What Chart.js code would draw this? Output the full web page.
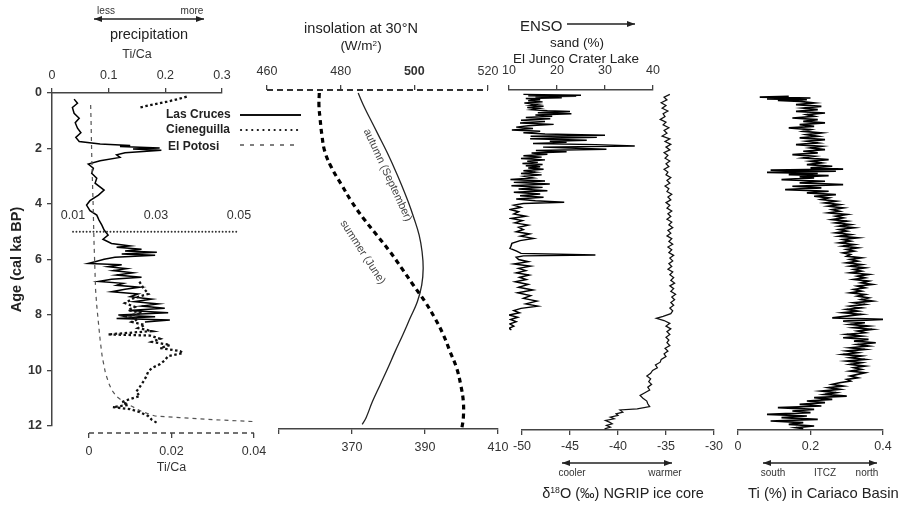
<!DOCTYPE html>
<html><head><meta charset="utf-8">
<script src="https://cdn.jsdelivr.net/npm/chart.js@4.4.0/dist/chart.umd.min.js"></script>
<style>
html,body{margin:0;padding:0;background:#fff;overflow:hidden;}
#wrap{position:relative;width:899px;height:505px;overflow:hidden;font-family:'Liberation Sans',Arial,Helvetica,sans-serif;color:#222;background:#fff;}
#wrap canvas{position:absolute;left:0;top:0;}
#ov{position:absolute;left:0;top:0;pointer-events:none;}
.t{position:absolute;transform:translate(-50%,-50%);white-space:nowrap;line-height:1;}
.l{position:absolute;transform:translateY(-50%);white-space:nowrap;line-height:1;}
.sup{font-size:0.6em;position:relative;top:-0.55em;}
</style></head>
<body>
<div id="wrap">
<svg id="ov" width="899" height="505">
<defs>
<marker id="ah" viewBox="0 0 8 6" refX="8" refY="3" markerWidth="8" markerHeight="6" markerUnits="userSpaceOnUse" orient="auto-start-reverse"><path d="M0,0 L8,3 L0,6 z" fill="#222"/></marker>
</defs>
<line x1="94" y1="19" x2="204" y2="19" stroke="#222" stroke-width="1.3" marker-start="url(#ah)" marker-end="url(#ah)"/>
<line x1="567" y1="24" x2="635" y2="24" stroke="#222" stroke-width="1.3" marker-end="url(#ah)"/>
<line x1="562" y1="463" x2="672" y2="463" stroke="#222" stroke-width="1.3" marker-start="url(#ah)" marker-end="url(#ah)"/>
<line x1="763" y1="463" x2="877" y2="463" stroke="#222" stroke-width="1.3" marker-start="url(#ah)" marker-end="url(#ah)"/>
<line x1="240" y1="115" x2="301" y2="115" stroke="#111" stroke-width="2.2"/>
<line x1="241" y1="130" x2="300" y2="130" stroke="#111" stroke-width="2.2" stroke-dasharray="0.1 5.5" stroke-linecap="round"/>
<line x1="240" y1="145" x2="296" y2="145" stroke="#555" stroke-width="1.3" stroke-dasharray="4 6"/>
</svg>
<div class="t" style="left:106px;top:11px;font-size:10px;color:#333">less</div>
<div class="t" style="left:192px;top:11px;font-size:10px;color:#333">more</div>
<div class="t" style="left:149px;top:34px;font-size:14.5px;color:#222">precipitation</div>
<div class="l" style="left:166px;top:114px;font-size:12px;font-weight:bold;color:#222">Las Cruces</div>
<div class="l" style="left:166px;top:129px;font-size:12px;font-weight:bold;color:#222">Cieneguilla</div>
<div class="l" style="left:168px;top:146px;font-size:12px;font-weight:bold;color:#222">El Potosi</div>
<div class="t" style="left:361px;top:28px;font-size:14.5px;color:#222">insolation at 30°N</div>
<div class="t" style="left:361px;top:46px;font-size:13.5px;color:#222">(W/m<span class="sup">2</span>)</div>
<div class="t" style="left:388px;top:175px;font-size:11px;color:#444;transform:translate(-50%,-50%) rotate(65deg)">autumn (September)</div>
<div class="t" style="left:363px;top:252px;font-size:11px;color:#444;transform:translate(-50%,-50%) rotate(57deg)">summer (June)</div>
<div class="l" style="left:520px;top:25px;font-size:15px;color:#222">ENSO</div>
<div class="t" style="left:577px;top:43px;font-size:13.5px;color:#222">sand (%)</div>
<div class="t" style="left:576px;top:59px;font-size:13.5px;color:#222">El Junco Crater Lake</div>
<div class="t" style="left:572px;top:473px;font-size:10px;color:#333">cooler</div>
<div class="t" style="left:665px;top:473px;font-size:10px;color:#333">warmer</div>
<div class="t" style="left:623px;top:493px;font-size:14.5px;color:#222">δ<span class="sup">18</span>O (‰) NGRIP ice core</div>
<div class="t" style="left:773px;top:473px;font-size:10px;color:#333">south</div>
<div class="t" style="left:825px;top:473px;font-size:10px;color:#333">ITCZ</div>
<div class="t" style="left:867px;top:473px;font-size:10px;color:#333">north</div>
<div class="l" style="left:748px;top:493px;font-size:14.8px;color:#222">Ti (%) in Cariaco Basin</div>
</div>
<script>
// ================= DATA =================
// Panel 1: precipitation proxies (Ti/Ca) vs age (cal ka BP)
const lasCrucesAge = [0.22,0.37,0.52,0.73,0.91,1.07,1.27,1.43,1.6,1.75,1.84,1.89,1.93,1.98,2.02,2.06,2.15,2.23,2.32,2.44,2.56,2.71,2.89,3.07,3.25,3.5,3.68,3.88,4.04,4.24,4.4,4.58,4.76,4.94,5.12,5.27,5.42,5.51,5.56,5.63,5.69,5.74,5.8,5.85,5.92,5.99,6.08,6.14,6.19,6.26,6.33,6.4,6.48,6.56,6.64,6.71,6.79,6.86,6.93,7.0,7.07,7.16,7.24,7.34,7.43,7.52,7.6,7.68,7.76,7.84,7.92,8.0,8.06,8.13,8.18,8.25];
const lasCrucesTiCa = [0.039,0.045,0.036,0.039,0.048,0.041,0.045,0.051,0.042,0.048,0.085,0.138,0.12,0.19,0.143,0.193,0.129,0.114,0.12,0.085,0.064,0.073,0.07,0.079,0.076,0.092,0.082,0.067,0.061,0.067,0.079,0.083,0.088,0.092,0.099,0.09,0.105,0.138,0.114,0.158,0.129,0.185,0.123,0.182,0.111,0.092,0.076,0.064,0.123,0.099,0.132,0.108,0.143,0.114,0.158,0.105,0.082,0.126,0.114,0.155,0.129,0.105,0.152,0.138,0.176,0.145,0.188,0.158,0.199,0.135,0.205,0.117,0.182,0.114,0.208,0.164];

const cieneguillaLateAge = [0.13,0.22,0.31,0.4,0.52];
const cieneguillaLateTiCa = [0.0374,0.0353,0.0327,0.0298,0.0261];
const cieneguillaAge = [6.8,7.04,7.24,7.4,7.57,7.71,7.82,7.93,8.04,8.14,8.25,8.36,8.47,8.58,8.7,8.74,8.86,8.97,9.08,9.19,9.3,9.37,9.48,9.62,9.77,9.91,10.05,10.23,10.41,10.59,10.77,10.92,11.03,11.14,11.24,11.32,11.39,11.5,11.64,11.78,11.91];
const cieneguillaTiCa = [0.026,0.027,0.0282,0.0245,0.0225,0.0249,0.0233,0.0266,0.0225,0.0257,0.0242,0.0273,0.0257,0.029,0.0184,0.0286,0.031,0.029,0.0334,0.031,0.0358,0.0365,0.0329,0.0322,0.031,0.029,0.0281,0.0276,0.0269,0.0261,0.0252,0.0261,0.0237,0.0218,0.0233,0.0196,0.0237,0.0261,0.0281,0.029,0.0305];

const elPotosiAge = [0.43,1.0,2.17,3.0,4.0,5.3,6.2,7.1,7.7,8.3,8.9,9.5,10.1,10.46,10.7,10.94,11.12,11.3,11.48,11.64,11.7,11.77,11.84];
const elPotosiTiCa = [0.0004,0.0005,0.00065,0.0008,0.001,0.0012,0.0014,0.0016,0.0019,0.0023,0.0027,0.0032,0.004,0.0048,0.0055,0.0067,0.0083,0.0105,0.0128,0.016,0.022,0.03,0.0398];

// Panel 2: insolation at 30°N (W/m2)
const juneAge = [0,0.43,0.91,1.51,2.11,2.71,3.32,3.92,4.52,5.12,5.72,6.32,6.92,7.52,8.12,8.72,9.32,9.92,10.52,11.12,11.72,12.08];
const juneInsolation = [474.2,474.1,474.4,474.9,475.7,477.6,480.3,483.0,486.2,489.8,493.4,496.6,499.7,502.9,505.6,507.9,509.7,511.5,512.6,513.3,513.3,512.9];
const septAge = [0,0.43,0.91,1.51,2.11,2.71,3.32,3.92,4.52,5.12,5.72,6.32,6.92,7.52,8.12,8.72,9.32,9.92,10.52,11.12,11.72,11.94];
const septInsolation = [371.7,373.1,374.9,377.2,379.5,381.6,383.6,385.4,387.0,388.4,389.2,389.5,389.1,387.9,385.9,383.9,381.8,379.8,377.7,375.6,373.8,372.8];

// Panel 3: El Junco sand (%) and NGRIP d18O (permil)
const sandAge = [0.05,0.08,0.10,0.12,0.14,0.17,0.20,0.24,0.28,0.32,0.36,0.40,0.44,0.48,0.52,0.56,0.60,0.64,0.67,0.71,0.75,0.79,0.84,0.88,0.93,0.98,1.03,1.08,1.13,1.18,1.23,1.28,1.33,1.38,1.43,1.48,1.52,1.56,1.60,1.65,1.70,1.74,1.78,1.82,1.86,1.91,1.95,1.99,2.03,2.07,2.12,2.16,2.21,2.26,2.31,2.36,2.41,2.46,2.50,2.54,2.58,2.62,2.66,2.70,2.75,2.80,2.85,2.90,2.95,3.00,3.06,3.12,3.17,3.22,3.28,3.34,3.40,3.46,3.52,3.58,3.64,3.70,3.76,3.82,3.88,3.94,3.98,4.04,4.12,4.20,4.28,4.36,4.44,4.52,4.60,4.68,4.76,4.84,4.92,5.00,5.08,5.16,5.24,5.32,5.42,5.52,5.60,5.70,5.78,5.84,5.87,5.92,6.00,6.08,6.16,6.24,6.32,6.40,6.48,6.56,6.64,6.72,6.80,6.90,7.00,7.10,7.20,7.30,7.40,7.50,7.60,7.68,7.76,7.84,7.92,8.00,8.08,8.16,8.24,8.32,8.40,8.48,8.54];
const sandPct = [13.0,25.0,14.0,24.0,15.5,21.0,13.5,16.5,14.0,17.0,13.2,16.0,14.5,17.2,13.8,16.3,14.8,18.0,22.7,16.0,23.0,15.5,19.0,13.5,18.6,12.5,17.5,12.3,19.3,14.0,11.5,15.0,10.6,16.5,13.0,17.5,30.0,14.5,28.3,14.4,26.2,18.5,22.0,15.0,28.0,36.2,17.1,24.0,30.3,15.6,22.0,14.7,18.0,13.0,16.8,12.5,17.5,13.8,16.0,12.8,17.0,13.5,16.5,14.0,17.2,13.0,15.5,12.5,16.8,13.2,15.0,10.3,17.5,11.0,18.5,10.5,17.0,12.0,18.0,11.0,16.5,12.3,17.2,11.5,15.5,21.5,13.0,11.0,12.5,10.3,12.0,11.0,13.5,10.5,12.8,11.2,14.0,12.0,13.0,11.5,14.3,12.4,15.1,12.3,10.6,10.4,10.2,11.6,12.5,28.0,13.0,11.5,12.0,14.0,11.0,14.5,12.0,13.5,11.5,14.2,12.2,13.6,11.3,14.0,12.0,15.0,11.8,14.5,13.0,15.8,13.5,16.0,12.5,11.0,12.2,10.0,11.8,10.3,11.5,10.2,11.0,10.0,10.5];

const ngripAge = [0.05,0.15,0.25,0.35,0.45,0.55,0.65,0.75,0.85,0.95,1.05,1.15,1.25,1.35,1.45,1.55,1.65,1.75,1.85,1.95,2.05,2.15,2.25,2.35,2.45,2.55,2.65,2.75,2.85,2.95,3.05,3.15,3.25,3.35,3.45,3.55,3.65,3.75,3.85,3.95,4.05,4.15,4.25,4.35,4.45,4.55,4.65,4.75,4.85,4.95,5.05,5.15,5.25,5.35,5.45,5.55,5.65,5.75,5.85,5.95,6.05,6.15,6.25,6.35,6.45,6.55,6.65,6.75,6.85,6.95,7.05,7.15,7.25,7.35,7.45,7.55,7.65,7.75,7.85,7.95,8.05,8.12,8.2,8.3,8.4,8.5,8.6,8.7,8.8,8.9,9.0,9.1,9.2,9.3,9.4,9.5,9.6,9.7,9.8,9.9,10.0,10.1,10.2,10.3,10.4,10.5,10.6,10.7,10.8,10.9,11.0,11.1,11.2,11.3,11.38,11.42,11.5,11.56,11.62,11.68,11.74,11.8,11.86,11.92,11.98,12.04,12.1];
const ngripD18O = [-34.6,-35.2,-34.9,-35.5,-35.0,-35.4,-34.8,-35.3,-35.1,-35.6,-35.0,-35.3,-34.7,-35.2,-34.9,-35.4,-34.6,-35.1,-34.5,-35.0,-34.6,-35.2,-34.8,-35.1,-34.6,-35.0,-34.7,-35.2,-34.8,-35.0,-34.5,-34.9,-34.6,-35.1,-34.7,-34.9,-34.4,-34.8,-34.5,-35.0,-34.6,-34.9,-34.4,-34.8,-34.5,-34.9,-34.4,-34.7,-34.3,-34.8,-34.5,-34.9,-34.4,-34.7,-34.3,-34.8,-34.4,-34.7,-34.2,-34.6,-34.3,-34.7,-34.4,-34.8,-34.3,-34.6,-34.2,-34.5,-34.1,-34.6,-34.2,-34.5,-34.0,-34.4,-34.1,-34.5,-34.2,-34.6,-34.3,-34.5,-35.3,-36.0,-35.2,-34.6,-35.0,-34.5,-34.9,-34.6,-35.0,-34.7,-34.9,-34.6,-35.1,-34.8,-35.2,-35.0,-35.5,-35.6,-36.1,-35.9,-36.4,-36.6,-37.0,-36.6,-36.8,-36.5,-36.9,-36.7,-37.2,-37.7,-37.4,-37.0,-36.9,-36.7,-38.0,-39.8,-39.5,-40.2,-40.0,-40.8,-40.4,-41.3,-40.9,-40.6,-41.2,-40.8,-41.4];

// Panel 4: Cariaco Basin Ti (%)
const cariacoAge = [0.12,0.15,0.18,0.21,0.24,0.27,0.30,
0.36,0.42,0.48,0.54,0.60,0.66,0.72,0.78,0.84,0.90,
0.96,1.02,1.08,1.14,1.20,1.26,1.32,1.38,1.44,1.50,
1.56,1.62,1.68,1.74,1.80,1.86,1.92,1.98,2.04,2.10,
2.16,2.22,2.28,2.34,2.40,2.46,2.52,2.58,2.64,2.70,
2.74,2.78,2.82,2.86,2.90,2.94,2.98,3.02,3.06,
3.12,3.18,3.24,3.30,3.36,3.42,3.48,3.54,3.60,3.66,
3.72,3.78,3.84,3.90,3.96,4.02,4.08,4.14,4.20,4.26,
4.32,4.38,4.44,4.50,4.56,4.62,4.68,4.74,4.80,4.86,
4.92,4.98,5.04,5.10,5.16,5.22,5.28,5.34,5.40,5.46,
5.52,5.58,5.64,5.70,5.76,5.82,5.88,5.94,6.00,6.06,
6.12,6.18,6.24,6.30,6.36,6.42,6.48,6.54,6.60,6.66,
6.72,6.78,6.84,6.90,6.96,7.02,7.08,7.14,7.20,7.26,
7.32,7.38,7.44,7.50,7.56,7.62,7.68,7.74,7.80,7.86,
7.92,7.98,8.04,8.10,8.16,8.22,8.28,8.34,8.40,8.46,
8.52,8.58,8.64,8.70,8.76,8.82,8.88,8.94,9.00,9.06,
9.12,9.18,9.24,9.30,9.36,9.42,9.48,9.54,9.60,9.66,
9.72,9.78,9.84,9.90,9.96,10.02,10.08,10.14,10.20,10.26,
10.32,10.38,10.44,10.50,10.56,10.62,10.68,10.74,10.80,10.86,
10.92,10.98,11.04,11.10,11.16,11.22,11.28,11.34,11.40,11.46,
11.52,11.58,11.64,11.70,11.76,11.82,11.88,11.94,12.00,12.06,
12.10];
const cariacoTi = [0.14,0.06,0.20,0.08,0.19,0.11,0.17,
0.21,0.16,0.23,0.18,0.22,0.16,0.24,0.19,0.21,0.15,
0.22,0.18,0.24,0.17,0.21,0.14,0.20,0.18,0.23,0.19,
0.22,0.17,0.24,0.19,0.22,0.16,0.23,0.20,0.24,0.18,
0.22,0.15,0.21,0.18,0.25,0.20,0.23,0.19,0.26,0.20,
0.29,0.09,0.27,0.08,0.22,0.14,0.25,0.17,0.21,
0.12,0.24,0.17,0.29,0.15,0.23,0.13,0.25,0.19,0.27,
0.21,0.25,0.23,0.27,0.24,0.28,0.25,0.29,0.26,0.28,
0.25,0.30,0.27,0.29,0.26,0.30,0.27,0.31,0.28,0.32,
0.28,0.30,0.27,0.31,0.28,0.33,0.29,0.31,0.28,0.32,
0.29,0.33,0.30,0.32,0.29,0.31,0.30,0.34,0.31,0.33,
0.30,0.34,0.31,0.35,0.32,0.34,0.31,0.36,0.33,0.35,
0.32,0.36,0.34,0.37,0.33,0.35,0.32,0.34,0.31,0.35,
0.33,0.36,0.34,0.37,0.32,0.35,0.31,0.34,0.30,0.33,
0.29,0.34,0.30,0.26,0.40,0.29,0.35,0.31,0.36,0.32,
0.37,0.33,0.35,0.30,0.34,0.29,0.36,0.32,0.38,0.33,
0.36,0.31,0.35,0.30,0.33,0.29,0.34,0.31,0.35,0.30,
0.34,0.31,0.35,0.32,0.34,0.31,0.35,0.33,0.31,0.33,
0.30,0.31,0.28,0.26,0.29,0.25,0.28,0.23,0.27,0.24,
0.30,0.21,0.26,0.19,0.24,0.17,0.23,0.11,0.21,0.15,
0.20,0.08,0.19,0.12,0.22,0.09,0.18,0.14,0.21,0.16,
0.18];

// Tick values and labels
const ageTicks = [0,2,4,6,8,10,12];
const ageTickLabels = ['0','2','4','6','8','10','12'];
const tiCaTopTicks = [0,0.1,0.2,0.3];
const tiCaTopLabels = ['0','0.1','0.2','0.3'];
const tiCaBottomTicks = [0,0.02,0.04];
const tiCaBottomLabels = ['0','0.02','0.04'];
const tiCaInnerTicks = [0.01,0.03,0.05];
const tiCaInnerLabels = ['0.01','0.03','0.05'];
const juneTicks = [460,480,500,520];
const juneTickLabels = ['460','480','500','520'];
const septTicks = [350,370,390,410];
const septTickLabels = ['','370','390','410'];
const sandTicks = [10,20,30,40];
const sandTickLabels = ['10','20','30','40'];
const d18OTicks = [-50,-45,-40,-35,-30];
const d18OTickLabels = ['-50','-45','-40','-35','-30'];
const tiTicks = [0,0.2,0.4];
const tiTickLabels = ['0','0.2','0.4'];

// ================= RENDERING =================
Chart.defaults.font.family = "'Liberation Sans', Arial, Helvetica, sans-serif";
Chart.defaults.color = '#333';
const AX = '#444';
const wrap = document.getElementById('wrap');
const overlay = document.getElementById('ov');

function pts(ages, vals) { return ages.map((a, i) => ({x: vals[i], y: a})); }
function series(label, ages, vals, style) {
  return Object.assign({label, data: pts(ages, vals), showLine: true, pointRadius: 0, pointHoverRadius: 0,
    borderColor: '#111', borderWidth: 1.3, tension: 0, fill: false}, style);
}
function xAxis(o) {
  return {
    type: 'linear', position: o.position, min: o.min, max: o.max, bounds: 'data',
    afterBuildTicks: s => { s.ticks = o.ticks.map(v => ({value: v})); },
    afterFit: s => { s.height = o.height; },
    ticks: {autoSkip: false, maxRotation: 0, minRotation: 0, padding: o.pad, color: '#333',
      font: o.font || {size: 12.5}, callback: (v, i) => o.labels[i]},
    grid: {display: true, drawOnChartArea: false, drawTicks: o.drawTicks !== false, tickLength: 5, color: AX, lineWidth: 1.3},
    border: {display: o.border !== false, color: AX, width: 1.5},
    title: o.title || {display: false}
  };
}
function yHidden(min, max) { return {type: 'linear', display: false, min, max, reverse: true, bounds: 'data'}; }
function axisLine(id, dash, width, color, cap) {
  return {id: 'axisLine', beforeDatasetsDraw(chart) {
    const s = chart.scales[id]; const ctx = chart.ctx;
    const y = s.position === 'top' ? s.bottom : s.top;
    ctx.save(); ctx.setLineDash(dash); ctx.lineWidth = width; ctx.strokeStyle = color; ctx.lineCap = cap || 'butt';
    ctx.beginPath(); ctx.moveTo(s.left, y); ctx.lineTo(s.right, y); ctx.stroke(); ctx.restore();
  }};
}
function mk(padding, scales, datasets, plugins) {
  const c = document.createElement('canvas');
  c.width = 899; c.height = 505;
  wrap.insertBefore(c, overlay);
  return new Chart(c, {
    type: 'scatter',
    data: {datasets},
    options: {responsive: false, animation: false, devicePixelRatio: 1, events: [],
      layout: {padding},
      plugins: {legend: {display: false}, tooltip: {enabled: false}, title: {display: false}},
      scales},
    plugins: plugins || []
  });
}

// Panel 1a: Las Cruces on top Ti/Ca axis + age axis
mk({left: 0, right: 677, top: 33, bottom: 79}, {
  x: xAxis({position: 'top', min: 0, max: 0.3, ticks: tiCaTopTicks, labels: tiCaTopLabels, height: 60, pad: 5,
    title: {display: true, text: 'Ti/Ca', font: {size: 12.5}, color: '#333', padding: {top: 14, bottom: 0}}}),
  y: {type: 'linear', position: 'left', min: 0, max: 12, reverse: true, bounds: 'data',
    afterBuildTicks: s => { s.ticks = ageTicks.map(v => ({value: v})); },
    afterFit: s => { s.width = 52; },
    ticks: {autoSkip: false, padding: 5, font: {size: 12.5, weight: 'bold'}, color: '#333', callback: (v, i) => ageTickLabels[i]},
    grid: {display: true, drawOnChartArea: false, tickLength: 5, color: AX, lineWidth: 1.3},
    border: {display: true, color: AX, width: 1.5},
    title: {display: true, text: 'Age (cal ka BP)', font: {size: 14.5, weight: 'bold'}, color: '#222', padding: {top: 8.3, bottom: 0}}}
}, [series('Las Cruces', lasCrucesAge, lasCrucesTiCa, {borderColor: '#000', borderWidth: 1.5})]);

// Panel 1b: El Potosi on bottom dashed Ti/Ca axis
mk({left: 89, right: 645, top: 93, bottom: 0}, {
  x: xAxis({position: 'bottom', min: 0, max: 0.04, ticks: tiCaBottomTicks, labels: tiCaBottomLabels, height: 72, pad: 6.5, border: false,
    title: {display: true, text: 'Ti/Ca', font: {size: 12.5}, color: '#333', padding: {top: 0, bottom: 30}}}),
  y: yHidden(0, 12.2523)
}, [series('El Potosi', elPotosiAge, elPotosiTiCa, {borderColor: '#555', borderWidth: 1.2, borderDash: [4, 4]})],
 [axisLine('x', [5, 4], 1.5, AX)]);

// Panel 1c: Cieneguilla on inner dotted Ti/Ca axis (placed at 5 ka)
mk({left: 73, right: 660, top: 201.75, bottom: 79}, {
  x: xAxis({position: 'top', min: 0.01, max: 0.05, ticks: tiCaInnerTicks, labels: tiCaInnerLabels, height: 30, pad: 9.2, border: false, drawTicks: false}),
  y: yHidden(5, 12)
}, [series('Cieneguilla', cieneguillaLateAge, cieneguillaLateTiCa, {borderWidth: 2.3, borderDash: [2.5, 2.5], clip: false}),
    series('Cieneguilla', cieneguillaAge, cieneguillaTiCa, {borderWidth: 2.3, borderDash: [2.5, 2.5], clip: false})],
 [axisLine('x', [0.1, 3.3], 1.8, '#333', 'round')]);

// Panel 2a: June insolation, top dashed axis
mk({left: 267, right: 411, top: 50, bottom: 76}, {
  x: xAxis({position: 'top', min: 460, max: 520, ticks: juneTicks, labels: juneTickLabels, height: 40, pad: 5.5, border: false,
    font: ctx => ({size: 12.5, weight: (ctx.tick && ctx.tick.value === 500) ? 'bold' : 'normal'})}),
  y: yHidden(-0.1081, 12.1081)
}, [series('summer (June)', juneAge, juneInsolation, {borderColor: '#000', borderWidth: 3.2, borderDash: [5, 4], tension: 0.4})],
 [axisLine('x', [6, 4], 2, '#333')]);

// Panel 2b: September insolation, bottom axis
mk({left: 279, right: 401, top: 90, bottom: 0}, {
  x: xAxis({position: 'bottom', min: 350, max: 410, ticks: septTicks, labels: septTickLabels, height: 76, pad: 6.5}),
  y: yHidden(-0.1081, 12.1081)
}, [series('autumn (September)', septAge, septInsolation, {borderColor: '#222', borderWidth: 1.3, tension: 0.4})]);

// Panel 3a: El Junco sand
mk({left: 509, right: 246, top: 50, bottom: 75}, {
  x: xAxis({position: 'top', min: 10, max: 40, ticks: sandTicks, labels: sandTickLabels, height: 40, pad: 6.5}),
  y: yHidden(-0.1081, 12.1441)
}, [series('sand (%)', sandAge, sandPct, {borderColor: '#000', borderWidth: 1.45})]);

// Panel 3b: NGRIP d18O
mk({left: 522, right: 185, top: 90, bottom: 0}, {
  x: xAxis({position: 'bottom', min: -50, max: -30, ticks: d18OTicks, labels: d18OTickLabels, height: 75, pad: 4.2}),
  y: yHidden(-0.1081, 12.1441)
}, [series('NGRIP', ngripAge, ngripD18O, {borderColor: '#111', borderWidth: 1.25})]);

// Panel 4: Cariaco Ti
mk({left: 738, right: 16, top: 90, bottom: 0}, {
  x: xAxis({position: 'bottom', min: 0, max: 0.4, ticks: tiTicks, labels: tiTickLabels, height: 75, pad: 4.5}),
  y: yHidden(-0.1081, 12.1441)
}, [series('Cariaco Ti', cariacoAge, cariacoTi, {borderColor: '#000', borderWidth: 1.7})]);
</script>
</body></html>
